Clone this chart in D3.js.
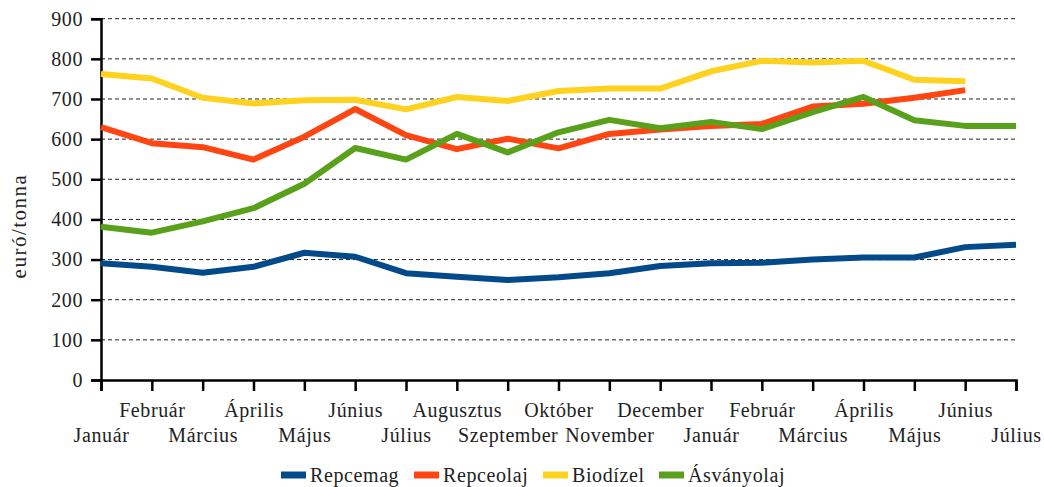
<!DOCTYPE html>
<html><head><meta charset="utf-8">
<script src="https://cdn.jsdelivr.net/npm/d3@7"></script>
<style>body{margin:0;background:#fff}</style>
</head><body><svg id="c" width="1044" height="487"></svg>
<script>
const months = ["Január","Február","Március","Április","Május","Június","Július","Augusztus","Szeptember","Október","November","December","Január","Február","Március","Április","Május","Június","Július"];
const repcemag = [291,282,267,282,317,307,266,257,249,256,266,284,291,292,300,305,305,331,337];
const repceolaj = [630,590,580,549,606,675,610,575,601,577,613,624,633,638,681,688,703,722,null];
const biodizel = [762,751,703,689,697,698,674,705,695,720,726,726,769,795,791,795,748,744,null];
const asvanyolaj = [382,367,395,428,489,578,549,613,567,617,648,627,643,625,667,705,647,633,633];
const yTicks = [0,100,200,300,400,500,600,700,800,900];
const seriesNames = ["Repcemag","Repceolaj","Biodízel","Ásványolaj"];
const colors = ["#034a8b","#ff4512","#ffd21f","#59a01b"];
const series = [repcemag, repceolaj, biodizel, asvanyolaj];
const FONT = "'Liberation Serif', 'Times New Roman', 'DejaVu Serif', serif";

const svg = d3.select("#c");
const L = 101, R = 1016, T = 18.7, B = 380;
const x = d3.scalePoint().domain(d3.range(months.length)).range([L, R]);
const y = d3.scaleLinear().domain([0, 900]).range([B, T]);

// grid
svg.append("g").selectAll("line").data(yTicks.filter(d => d > 0)).join("line")
  .attr("x1", L).attr("x2", R).attr("y1", d => y(d)).attr("y2", d => y(d))
  .attr("stroke", "#222").attr("stroke-width", 1).attr("stroke-dasharray", "4,3");

// y axis
const ya = svg.append("g").attr("transform", `translate(${L},0)`)
  .call(d3.axisLeft(y).tickValues(yTicks).tickSize(10).tickPadding(6));
ya.select(".domain").attr("stroke", "#000").attr("stroke-width", 2.5);
ya.selectAll(".tick line").attr("stroke", "#000").attr("stroke-width", 2.5);
ya.selectAll(".tick text").attr("x", -18);

// x axis
const xa = svg.append("g").attr("transform", `translate(0,${B})`)
  .call(d3.axisBottom(x).tickSize(11).tickFormat(i => months[i]));
xa.select(".domain").attr("stroke", "#000").attr("stroke-width", 2.5);
xa.selectAll(".tick line").attr("stroke", "#000").attr("stroke-width", 2.5);
xa.selectAll(".tick text").attr("dy", null).attr("y", i => i % 2 === 1 ? 37 : 62);

// lines
const line = d3.line().defined(d => d != null).x((d, i) => x(i)).y(d => y(d));
series.forEach((s, k) => {
  svg.append("path").datum(s).attr("d", line).attr("fill", "none")
    .attr("stroke", colors[k]).attr("stroke-width", 6).attr("stroke-linejoin", "round");
});

// legend
const legX = [281, 414, 543, 659];
const lg = svg.append("g");
seriesNames.forEach((n, k) => {
  lg.append("line").attr("x1", legX[k]).attr("x2", legX[k] + 25).attr("y1", 475).attr("y2", 475)
    .attr("stroke", colors[k]).attr("stroke-width", 7);
  lg.append("text").attr("x", legX[k] + 29).attr("y", 482).text(n);
});

svg.selectAll("text").style("font-family", FONT).style("font-size", "20px")
  .style("letter-spacing", "0.6px").attr("fill", "#222");

// y label
svg.append("text").attr("transform", "translate(26,226) rotate(-90)")
  .attr("text-anchor", "middle").attr("fill", "#222")
  .style("font-family", FONT).style("font-size", "21px").style("letter-spacing", "1.5px")
  .text("euró/tonna");
</script></body></html>
